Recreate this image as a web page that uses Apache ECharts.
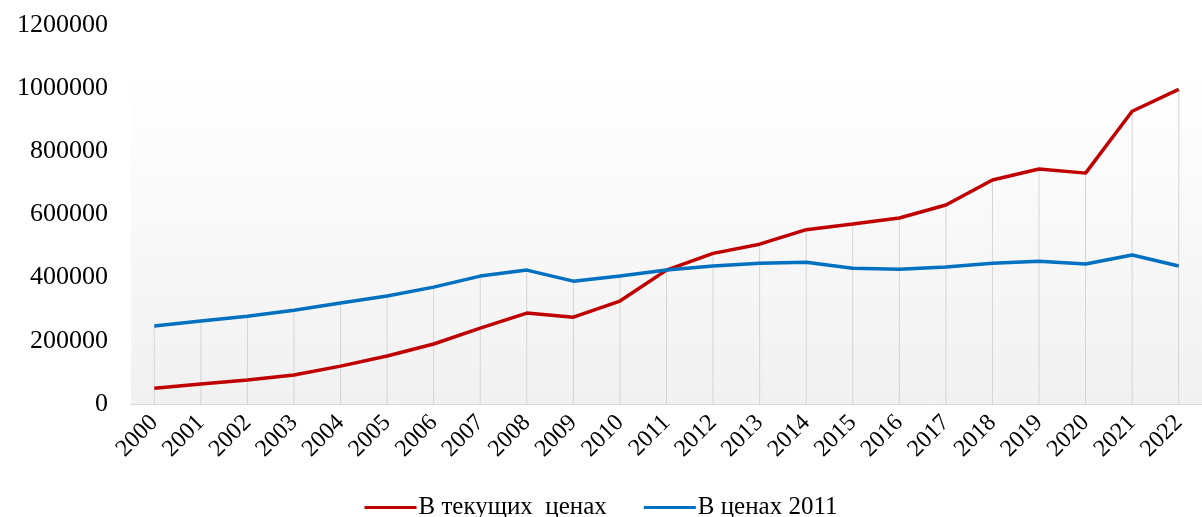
<!DOCTYPE html>
<html>
<head>
<meta charset="utf-8">
<script src="https://cdn.jsdelivr.net/npm/echarts@6/dist/echarts.min.js"></script>
<style>
  html, body { margin: 0; padding: 0; background: #fff; }
  #main { width: 1202px; height: 517px; }
</style>
</head>
<body>
<div id="main"></div>
<script>
// годы
var years = ['2000','2001','2002','2003','2004','2005','2006','2007','2008','2009','2010','2011',
  '2012','2013','2014','2015','2016','2017','2018','2019','2020','2021','2022']

// В текущих ценах
var currentPrices = [50000, 63000, 76000, 92000, 120000, 152000, 190000, 240000, 288000, 275000, 326000, 424000,
  477000, 506000, 552000, 570000, 589000, 630000, 709000, 744000, 731000, 927000, 996000]

// В ценах 2011
var prices2011 = [247000, 263000, 278000, 297000, 320000, 342000, 370000, 405000, 424000, 389000, 405000, 424000,
  437000, 446000, 449000, 430000, 427000, 434000, 446000, 452000, 443000, 472000, 437000]

var seriesNames = ['В текущих  ценах', 'В ценах 2011']

// вертикальные линии до верхней точки
var dropLines = currentPrices.map(function (v, i) { return Math.max(v, prices2011[i]) })

var font = '"Liberation Serif", "Times New Roman", serif'

var myChart = echarts.init(document.getElementById('main'))

var option = {
  backgroundColor: '#fff',
  animation: false,
  textStyle: { fontFamily: font },
  grid: {
    left: 131,
    right: -9,
    top: 25,
    bottom: 113
  },
  graphic: [
    {
      type: 'rect',
      z: -1,
      shape: { x: 131, y: 68, width: 1080, height: 336 },
      style: {
        fill: {
          type: 'linear', x: 0, y: 0, x2: 0, y2: 1,
          colorStops: [
            { offset: 0, color: '#ffffff' },
            { offset: 1, color: '#f1f1f1' }
          ]
        }
      }
    }
  ],
  legend: {
    data: seriesNames,
    bottom: -8,
    left: 'center',
    icon: 'rect',
    itemWidth: 52,
    itemHeight: 3,
    itemGap: 37,
    textStyle: { fontFamily: font, fontSize: 25, color: '#000', padding: [0, 0, 0, -3] }
  },
  xAxis: {
    type: 'category',
    data: years,
    boundaryGap: true,
    axisLine: { lineStyle: { color: '#d9d9d9', width: 1 } },
    axisTick: { show: false },
    axisLabel: {
      interval: 0,
      rotate: 45,
      margin: 15,
      fontFamily: font,
      fontSize: 24,
      color: '#000'
    },
    splitLine: { show: false }
  },
  yAxis: {
    type: 'value',
    min: 0,
    max: 1200000,
    interval: 200000,
    axisLine: { show: false },
    axisTick: { show: false },
    splitLine: { show: false },
    axisLabel: {
      margin: 23,
      fontFamily: font,
      fontSize: 26,
      color: '#000',
      formatter: function (v) { return String(v) }
    }
  },
  series: [
    {
      name: 'drop',
      type: 'bar',
      data: dropLines,
      barWidth: 1,
      silent: true,
      z: 1,
      itemStyle: { color: '#d4d4d4' }
    },
    {
      name: seriesNames[0],
      type: 'line',
      data: currentPrices,
      symbol: 'none',
      z: 3,
      lineStyle: { color: '#c00000', width: 3.5 },
      itemStyle: { color: '#c00000' }
    },
    {
      name: seriesNames[1],
      type: 'line',
      data: prices2011,
      symbol: 'none',
      z: 3,
      lineStyle: { color: '#0070c0', width: 3.5 },
      itemStyle: { color: '#0070c0' }
    }
  ]
}
myChart.setOption(option)
</script>
</body>
</html>
